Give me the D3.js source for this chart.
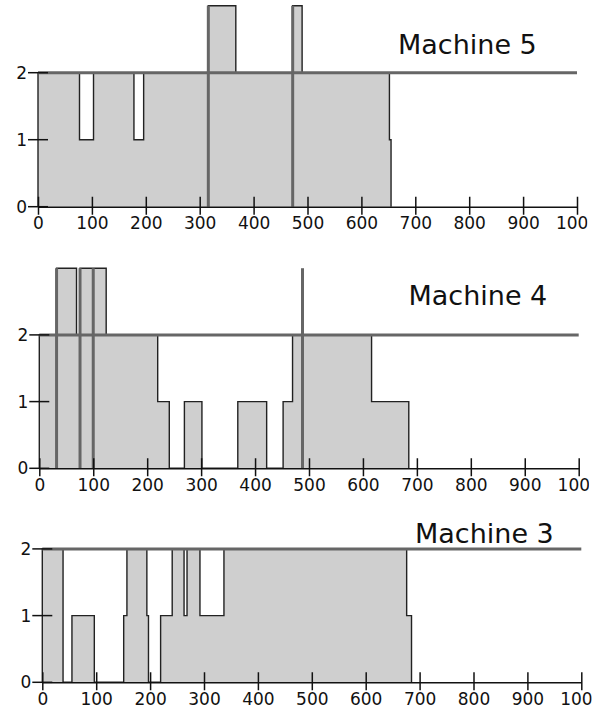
<!DOCTYPE html>
<html>
<head>
<meta charset="utf-8">
<script src="https://cdn.jsdelivr.net/npm/d3@7"></script>
<style>
  body { margin: 0; background: #fff; }
  text { font-family: "DejaVu Sans", sans-serif; }
</style>
</head>
<body>
<svg id="chart" width="597" height="713"></svg>
<script>
// machine names, top to bottom
var machines = ["Machine 5", "Machine 4", "Machine 3"];

// usage steps [time, level] per machine (step-after)
var usage5 = [[0, 2], [77, 1], [103, 2], [178, 1], [196, 2], [316, 3], [367, 2], [472.5, 3], [490, 2], [652, 1], [655, 0]];
var usage4 = [[0, 2], [32, 3], [69, 2], [75.5, 3], [124, 2], [219.5, 1], [241, 0], [269, 1], [301.5, 0], [368, 1], [421.5, 0], [452, 1], [469.5, 2], [616, 1], [685, 0]];
var usage3 = [[0, 2], [38.5, 0], [55, 1], [96.5, 0], [151, 1], [157, 2], [194, 1], [197, 0], [219.5, 1], [241, 2], [263, 1], [268.5, 2], [292.5, 1], [337, 2], [676, 1], [685, 0]];

// capacity level and the instants where the capacity line spikes
var capacity = 2;
var maxLevel = 3;
var spikes5 = [316, 472.5];
var spikes4 = [32, 75.5, 100, 488];
var spikes3 = [];

var xTicks = [0, 100, 200, 300, 400, 500, 600, 700, 800, 900, 1000];
var yTicks = [0, 1, 2];

var usages = [usage5, usage4, usage3];
var spikes = [spikes5, spikes4, spikes3];

// layout of the three panels (pixel positions)
var panels = [
  { x0: 38,   x1: 577,   y0: 206.7, unit: 67,   title: [398, 54] },
  { x0: 39.3, x1: 578.7, y0: 468.3, unit: 66.7, title: [408.5, 305] },
  { x0: 42.3, x1: 581.3, y0: 682.3, unit: 66.7, title: [415, 543.3] }
];

var svg = d3.select("#chart");
var defs = svg.append("defs");

panels.forEach(function(p, i) {
  var sx = d3.scaleLinear().domain([0, 1000]).range([p.x0, p.x1]);
  var sy = d3.scaleLinear().domain([0, maxLevel]).range([p.y0, p.y0 - maxLevel * p.unit]);
  var g = svg.append("g");

  var data = usages[i];
  var area = d3.area().curve(d3.curveStepAfter)
    .x(function(d) { return sx(d[0]); }).y0(sy(0)).y1(function(d) { return sy(d[1]); });
  var line = d3.line().curve(d3.curveStepAfter)
    .x(function(d) { return sx(d[0]); }).y(function(d) { return sy(d[1]); });

  g.append("path").datum(data).attr("d", area).attr("fill", "#cfcfcf");
  g.append("path").datum([[0, 0]].concat(data)).attr("d", line)
    .attr("fill", "none").attr("stroke", "#222").attr("stroke-width", 1.4);

  // capacity line + spikes
  g.append("line").attr("x1", sx(0)).attr("x2", sx(1000))
    .attr("y1", sy(capacity)).attr("y2", sy(capacity))
    .attr("stroke", "#666").attr("stroke-width", 3);
  g.selectAll("line.spike").data(spikes[i]).enter().append("line").attr("class", "spike")
    .attr("x1", sx).attr("x2", sx).attr("y1", sy(0)).attr("y2", sy(maxLevel))
    .attr("stroke", "#666").attr("stroke-width", 3);

  // x axis (last label is cut at the right edge, as in the source)
  var clipId = "clip" + i;
  defs.append("clipPath").attr("id", clipId).append("rect")
    .attr("x", 0).attr("y", -20).attr("width", p.x1 + 10.5).attr("height", 60);
  var ax = g.append("g").attr("transform", "translate(0," + p.y0 + ")")
    .attr("clip-path", "url(#" + clipId + ")")
    .call(d3.axisBottom(sx).tickValues(xTicks).tickFormat(d3.format("d")).tickSize(8).tickSizeOuter(0).tickPadding(2.5));
  ax.select(".domain").attr("stroke", "#111").attr("stroke-width", 1.5);
  ax.selectAll(".tick line").attr("y1", -10).attr("stroke", "#111").attr("stroke-width", 1.5);
  ax.selectAll(".tick text").attr("font-size", 17).attr("fill", "#111")
    .attr("font-family", "DejaVu Sans");

  // y ticks
  var yt = g.selectAll("g.ytick").data(yTicks).enter().append("g").attr("class", "ytick")
    .attr("transform", function(d) { return "translate(" + p.x0 + "," + sy(d) + ")"; });
  yt.append("line").attr("x1", -10).attr("x2", 10).attr("stroke", "#111").attr("stroke-width", 1.5);
  yt.append("text").attr("x", -11).attr("dy", "0.35em").attr("text-anchor", "end")
    .attr("font-size", 17).attr("fill", "#111").text(function(d) { return d; });

  g.append("text").attr("x", p.title[0]).attr("y", p.title[1])
    .attr("font-size", 27).attr("fill", "#111").text(machines[i]);
});
</script>
</body>
</html>
